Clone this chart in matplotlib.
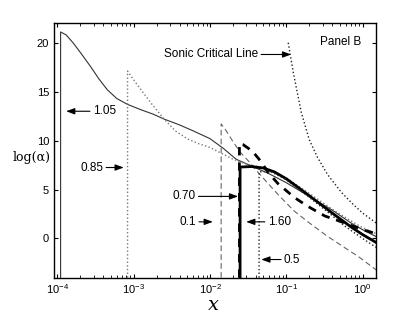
import matplotlib
matplotlib.use('Agg')
import matplotlib.pyplot as plt

# curve 1.05 (thin solid)
x_105 = [1.1e-4, 1.1e-4, 1.3e-4, 1.6e-4, 2e-4, 2.7e-4, 3.5e-4, 4.5e-4, 6e-4, 8.3e-4, 1.2e-3,
         1.8e-3, 2.5e-3, 4e-3, 6e-3, 0.01, 0.015, 0.022, 0.035, 0.06, 0.1, 0.2, 0.4, 0.7, 1.0, 1.5]
y_105 = [-4, 21.1, 20.8, 20.0, 19.0, 17.6, 16.3, 15.2, 14.3, 13.7, 13.2,
         12.7, 12.2, 11.6, 11.0, 10.2, 9.2, 8.1, 7.4, 6.6, 5.7, 4.3, 2.9, 1.6, 0.9, 0.2]

# curve 0.85 (grey dotted)
x_085 = [8.3e-4, 8.3e-4, 1.0e-3, 1.3e-3, 1.7e-3, 2.5e-3, 3.5e-3, 5e-3, 7e-3, 0.01, 0.015,
         0.02, 0.03, 0.045, 0.07, 0.1, 0.2, 0.4, 0.7, 1.0, 1.5]
y_085 = [-4, 17.1, 16.2, 15.0, 13.8, 12.2, 11.0, 10.2, 9.7, 9.3, 8.6,
         8.1, 7.6, 7.3, 6.8, 6.2, 4.6, 3.0, 1.8, 1.1, 0.5]

# curve 0.1 (thin dashed)
x_01 = [0.014, 0.014, 0.016, 0.02, 0.025, 0.032, 0.04, 0.055, 0.08, 0.127, 0.2, 0.35, 0.6, 0.9, 1.5]
y_01 = [-4, 11.7, 11.1, 9.9, 8.8, 7.9, 7.0, 5.8, 4.4, 2.8, 1.6, 0.2, -1.0, -1.9, -3.2]

# curve 0.70 (thick solid)
x_070 = [0.0248, 0.0248, 0.035, 0.05, 0.07, 0.1, 0.15, 0.25, 0.4, 0.7, 1.0, 1.5]
y_070 = [-4, 7.3, 7.35, 7.2, 6.8, 6.1, 5.1, 3.8, 2.6, 1.2, 0.4, -0.4]

# curve 1.60 (thick dashed)
x_160 = [0.0243, 0.0243, 0.027, 0.032, 0.037, 0.044, 0.06, 0.078, 0.127, 0.19, 0.32, 0.53, 1.0, 1.5]
y_160 = [-4, 9.7, 9.6, 9.2, 8.8, 8.1, 6.6, 5.6, 4.2, 3.3, 2.3, 1.7, 0.9, 0.5]

# curve 0.5 (black dotted)
x_05 = [0.044, 0.044, 0.06, 0.1, 0.2, 0.35, 0.6, 1.0, 1.5]
y_05 = [-4, 6.8, 6.9, 6.0, 4.2, 2.7, 1.2, 0.0, -0.9]

# sonic critical line
x_sonic = [0.106, 0.124, 0.157, 0.2, 0.256, 0.35, 0.53, 0.75, 1.0, 1.5]
y_sonic = [20.0, 16.9, 12.9, 10.1, 8.3, 6.5, 4.7, 3.5, 2.6, 1.6]

ticks_y = [0, 5, 10, 15, 20]

plt.rcParams['font.family'] = ['Liberation Sans', 'DejaVu Sans']
plt.rcParams['mathtext.fontset'] = 'custom'
plt.rcParams['mathtext.rm'] = 'Liberation Sans'
plt.rcParams['mathtext.it'] = 'Liberation Sans:italic'

fig = plt.figure(figsize=(4.15, 3.13), dpi=100)
ax = fig.add_axes([0.130, 0.113, 0.776, 0.813])

ax.plot(x_105, y_105, '-', color='#333333', lw=0.8)
ax.plot(x_085, y_085, ':', color='#777777', lw=1.0)
ax.plot(x_01, y_01, '--', color='#666666', lw=0.8, dashes=(5, 3))
ax.plot(x_070, y_070, '-', color='k', lw=2.0)
ax.plot(x_160, y_160, '--', color='k', lw=2.0, dashes=(3, 2.5))
ax.plot(x_05, y_05, ':', color='#222222', lw=1.0)
ax.plot(x_sonic, y_sonic, ':', color='#222222', lw=1.0)

ax.set_xscale('log')
ax.set_xlim(9e-5, 1.5)
ax.set_ylim(-4, 22)
ax.set_yticks(ticks_y)
ax.tick_params(which='both', direction='in', top=True, right=True, labelsize=8)
ax.tick_params(which='major', length=3)
ax.tick_params(which='minor', length=2)
for s in ax.spines.values():
    s.set_linewidth(1.0)

arrow = dict(arrowstyle='-|>,head_length=0.6,head_width=0.22', color='k', lw=0.8,
             shrinkA=0, shrinkB=0)
fs = 8.5


def label(txt, tip, pos, ha):
    """Annotation with a MATLAB style arrow"""
    ax.annotate(txt, xy=tip, xytext=pos, ha=ha, va='center', fontsize=fs, arrowprops=arrow)


label('1.05', (1.3e-4, 13.0), (2.9e-4, 13.0), 'left')
label('0.85', (7.4e-4, 7.25), (4.0e-4, 7.25), 'right')
label('0.70', (0.0234, 4.3), (6.5e-3, 4.3), 'right')
label('0.1', (0.0109, 1.7), (6.6e-3, 1.7), 'right')
label('1.60', (0.0298, 1.7), (0.057, 1.7), 'left')
label('0.5', (0.047, -2.15), (0.093, -2.15), 'left')
label('Sonic Critical Line', (0.116, 18.8), (0.043, 18.8), 'right')

ax.text(0.826, 0.927, 'Panel B', transform=ax.transAxes, fontsize=fs, va='center')

# axis labels drawn as figure text (serif, like the original)
fig.text(213 / 415, 1 - 305 / 313, 'x', ha='center', va='center', fontsize=14,
         family='DejaVu Serif', style='italic')
fig.text(0.075, 1 - 157 / 313, 'log(α)', ha='center', va='center', fontsize=9,
         family='DejaVu Serif')

fig.savefig('out.png', dpi=100)
